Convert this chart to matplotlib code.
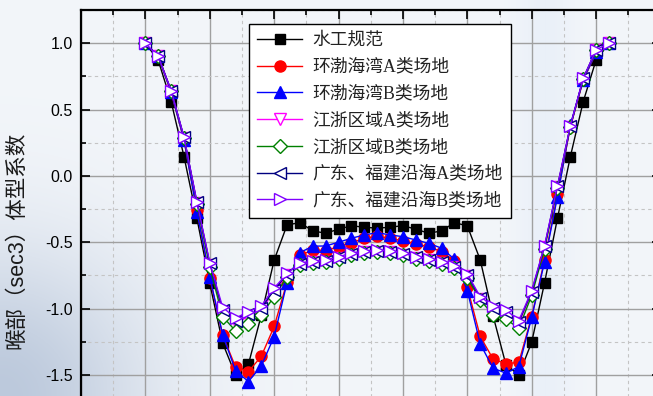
import numpy as np
import matplotlib
matplotlib.use("Agg")
import matplotlib.pyplot as plt
from matplotlib.ticker import MultipleLocator

# Section angle (degrees) for each measuring point
angles = list(range(0, 361, 10))

shuigong = [1.00, 0.87, 0.56, 0.145, -0.32, -0.81, -1.26, -1.50, -1.42, -1.05,
            -0.635, -0.37, -0.352, -0.415, -0.432, -0.402, -0.376, -0.387, -0.394,
            -0.387, -0.375, -0.402, -0.432, -0.415, -0.352, -0.377, -0.633, -1.055,
            -1.424, -1.50, -1.253, -0.804, -0.319, 0.145, 0.56, 0.874, 1.00]

bohai_a = [1.00, 0.90, 0.63, 0.27, -0.26, -0.77, -1.20, -1.44, -1.475, -1.36,
           -1.135, -0.80, -0.60, -0.558, -0.563, -0.533, -0.503, -0.47, -0.455,
           -0.47, -0.49, -0.51, -0.535, -0.57, -0.64, -0.84, -1.21, -1.38,
           -1.417, -1.404, -1.06, -0.633, -0.14, 0.37, 0.72, 0.93, 1.00]

bohai_b = [1.00, 0.90, 0.63, 0.27, -0.269, -0.76, -1.198, -1.467, -1.55, -1.432,
           -1.211, -0.804, -0.578, -0.53, -0.528, -0.50, -0.47, -0.445, -0.428,
           -0.445, -0.458, -0.483, -0.508, -0.545, -0.628, -0.864, -1.266, -1.449,
           -1.487, -1.437, -1.065, -0.646, -0.156, 0.384, 0.723, 0.93, 1.00]

jiangzhe_a = [1.00, 0.90, 0.64, 0.285, -0.205, -0.67, -1.03, -1.11, -1.06, -1.01,
              -0.87, -0.745, -0.668, -0.652, -0.646, -0.62, -0.595, -0.577, -0.57,
              -0.577, -0.595, -0.62, -0.637, -0.657, -0.69, -0.755, -0.925, -1.01,
              -1.04, -1.11, -0.88, -0.535, -0.085, 0.37, 0.73, 0.945, 1.00]

jiangzhe_b = [1.00, 0.90, 0.64, 0.285, -0.21, -0.69, -1.06, -1.168, -1.115, -1.047,
              -0.91, -0.76, -0.675, -0.658, -0.652, -0.625, -0.60, -0.582, -0.575,
              -0.582, -0.60, -0.625, -0.642, -0.663, -0.695, -0.77, -0.935, -1.047,
              -1.08, -1.148, -0.90, -0.55, -0.09, 0.37, 0.73, 0.945, 1.00]

guangdong_a = [1.00, 0.90, 0.643, 0.29, -0.20, -0.66, -1.01, -1.09, -1.04, -0.995,
               -0.86, -0.74, -0.665, -0.648, -0.642, -0.615, -0.59, -0.572, -0.565,
               -0.572, -0.59, -0.615, -0.632, -0.652, -0.685, -0.748, -0.92, -0.995,
               -1.025, -1.10, -0.872, -0.53, -0.08, 0.375, 0.735, 0.95, 1.00]

guangdong_b = [1.00, 0.90, 0.643, 0.292, -0.196, -0.655, -0.99, -1.072, -1.023, -0.98,
               -0.846, -0.735, -0.658, -0.641, -0.635, -0.608, -0.583, -0.565, -0.558,
               -0.565, -0.583, -0.608, -0.625, -0.646, -0.678, -0.739, -0.91, -0.98,
               -1.01, -1.09, -0.864, -0.525, -0.075, 0.377, 0.736, 0.95, 1.00]

labels = ["水工规范", "环渤海湾A类场地", "环渤海湾B类场地", "江浙区域A类场地",
          "江浙区域B类场地", "广东、福建沿海A类场地", "广东、福建沿海B类场地"]

W, H = 653, 396
fig = plt.figure(figsize=(W / 100, H / 100), dpi=100)

# soft photographic backdrop
bg_ax = fig.add_axes([0, 0, 1, 1], zorder=0)
yy, xx = np.mgrid[0:H, 0:W].astype(float)
base = np.array([243, 246, 250], float)
shade = np.exp(-(((xx - 0) / 150.0) ** 2 + ((yy - H) / 150.0) ** 2))
band = np.exp(-((xx - 545) / 28.0) ** 2) * 0.5
img = np.empty((H, W, 3))
img[..., 0] = base[0] - 55 * shade - 18 * band
img[..., 1] = base[1] - 45 * shade - 12 * band
img[..., 2] = base[2] - 30 * shade - 3 * band
bg_ax.imshow(np.clip(img, 0, 255).astype(np.uint8), aspect="auto",
             extent=[0, 1, 0, 1], interpolation="bilinear")
bg_ax.axis("off")

top = 1 - 10 / H
height = 398.1 / H
ax = fig.add_axes([81 / W, top - height, 579.5 / W, height], zorder=1)
ax.set_facecolor("none")

series = [
    (shuigong, dict(color="black", marker="s", ms=6.5, mfc="black", mec="black")),
    (bohai_a, dict(color="red", marker="o", ms=8, mfc="red", mec="red")),
    (bohai_b, dict(color="blue", marker="^", ms=8.5, mfc="blue", mec="blue")),
    (jiangzhe_a, dict(color="#ff00ff", marker="v", ms=8, mfc="white", mec="#ff00ff")),
    (jiangzhe_b, dict(color="#008000", marker="D", ms=7, mfc="white", mec="#008000")),
    (guangdong_a, dict(color="#000080", marker="<", ms=8.5, mfc="white", mec="#000080")),
    (guangdong_b, dict(color="#8000ff", marker=">", ms=8.5, mfc="white", mec="#8000ff")),
]
for (vals, style), lab in zip(series, labels):
    ax.plot(angles, vals, lw=1.0, mew=1.0, label=lab, **style)

ax.set_xlim(-50, 400)
ax.set_ylim(-1.75, 1.25)
ax.xaxis.set_major_locator(MultipleLocator(50))
ax.xaxis.set_minor_locator(MultipleLocator(25))
ax.yaxis.set_major_locator(MultipleLocator(0.5))
ax.yaxis.set_minor_locator(MultipleLocator(0.25))
ax.set_yticks([1.0, 0.5, 0.0, -0.5, -1.0, -1.5])
ax.set_yticklabels(["1.0", "0.5", "0.0", "-0.5", "-1.0", "-1.5"])

ax.grid(which="major", color="#a0a0a0", lw=1.0, ls="-")
ax.grid(which="minor", color="#c4c4c4", lw=0.8, ls=(0, (3, 3)))
ax.set_axisbelow(True)

ax.tick_params(which="both", direction="in", top=True, right=True, bottom=True,
               labelbottom=False, width=1.2)
ax.tick_params(which="major", length=6.5)
ax.tick_params(which="minor", length=3.5)
ax.tick_params(axis="y", labelsize=11.5, pad=6)
for lbl in ax.get_yticklabels():
    lbl.set_family(["Liberation Sans"])
for sp in ax.spines.values():
    sp.set_linewidth(1.6)

ax.set_ylabel("喉部（sec3）体型系数", fontsize=15.5,
              family=["Liberation Sans", "Noto Sans CJK SC"], color="#1a1a1a")
ax.yaxis.set_label_coords(-0.093, 0.422)

leg = ax.legend(loc="upper left", bbox_to_anchor=(249 / W, 1 - 24 / H),
                bbox_transform=fig.transFigure, borderaxespad=0,
                prop=dict(family=["Liberation Serif", "Noto Sans CJK SC"], size=12.8),
                handlelength=2.55, handletextpad=0.58, labelspacing=0.55,
                borderpad=0.45, fancybox=False, framealpha=1, edgecolor="black")
leg.get_frame().set_linewidth(1.0)
for t in leg.get_texts():
    t.set_color("#222222")

fig.savefig("out.png", dpi=100)
